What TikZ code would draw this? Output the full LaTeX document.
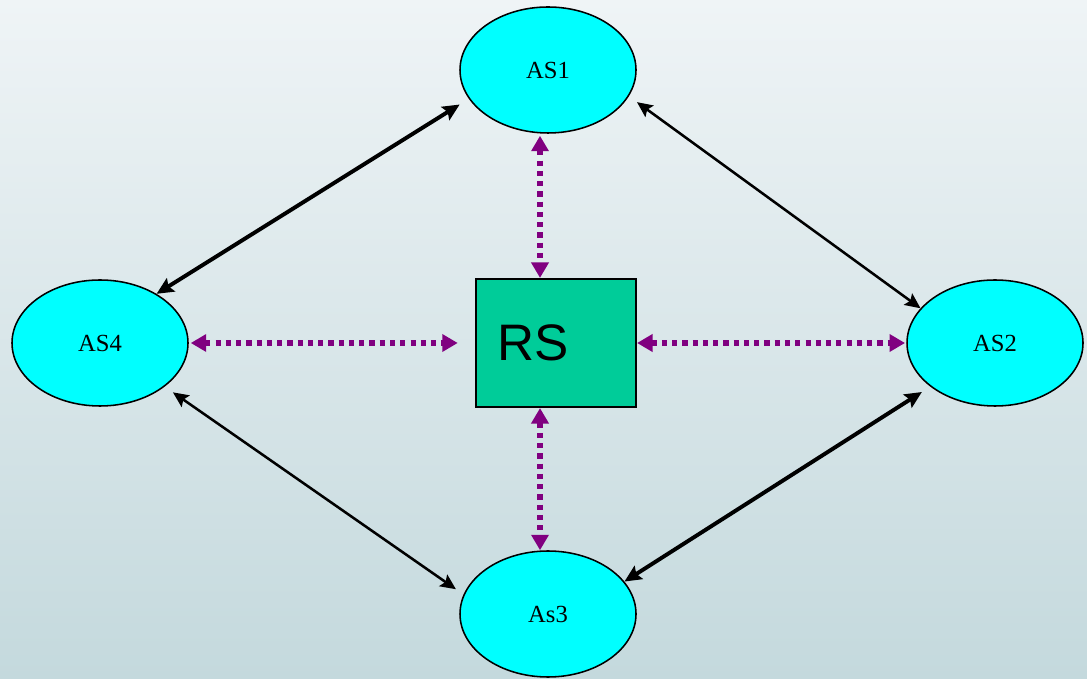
\documentclass[tikz,border=0pt]{standalone}
\usepackage{fontspec}
\setmainfont{Liberation Serif}
\setsansfont{Liberation Sans}
\usetikzlibrary{arrows.meta,shapes.geometric,calc}
\definecolor{bgtop}{HTML}{EFF4F6}
\definecolor{bgbot}{HTML}{C4D9DD}
\definecolor{ascyan}{HTML}{00FFFF}
\definecolor{rsgreen}{HTML}{00CC99}
\definecolor{linkpurple}{HTML}{800080}
\begin{document}
\begin{tikzpicture}[
  asnode/.style={ellipse, draw=black, line width=1.1pt, fill=ascyan, minimum width=4.4cm, minimum height=3.15cm, inner sep=0pt, font=\fontsize{17.5}{20}\selectfont},
  rsnode/.style={rectangle, draw=black, line width=1.5pt, fill=rsgreen, minimum height=3.2cm, text width=2.95cm, align=left, inner xsep=0.525cm, font=\sffamily\fontsize{36.5}{40}\selectfont},
  thinlink/.style={draw=black, line width=1.8pt, {Stealth[length=11pt,width=10pt,inset=2pt]}-{Stealth[length=11pt,width=10pt,inset=2pt]}},
  thicklink/.style={draw=black, line width=2.8pt, {Stealth[length=12pt,width=11pt,inset=2pt]}-{Stealth[length=12pt,width=11pt,inset=2pt]}},
  rslink/.style={draw=linkpurple, line width=4pt, dash pattern=on 3.7pt off 3.6pt, {Triangle[length=11pt,width=12pt]}-{Triangle[length=11pt,width=12pt]}}
]
\useasboundingbox (0,0) rectangle (27.175,16.95);
\shade[top color=bgtop, bottom color=bgbot] (0,0) rectangle (27.175,16.95);

\node[asnode] (as1) at (13.7,15.2) {AS1};
\node[asnode] (as2) at (24.875,8.375) {AS2};
\node[asnode] (as3) at (13.7,1.6) {As3};
\node[asnode] (as4) at (2.5,8.375) {AS4};
\node[rsnode] (rs) at (13.9,8.375) {RS};

\coordinate (px) at (13.5,0);

% RS links
\draw[rslink, shorten <=0.05cm] (as1.south -| px) -- (rs.north -| px);
\draw[rslink] (rs.south -| px) -- (as3.north -| px);
\draw[rslink, shorten <=0.05cm, shorten >=0.43cm] (as4.east) -- (rs.west);
\draw[rslink, shorten >=0.03cm] (rs.east) -- (as2.west);

% AS links
\draw[thicklink, shorten >=0.27cm] (as4.41) -- (as1.200);
\draw[thinlink, shorten <=0.25cm] (as1.-18) -- (as2.155);
\draw[thinlink, shorten <=0.25cm, shorten >=0.23cm] (as4.-34) -- (as3.167);
\draw[thicklink, shorten <=0.25cm] (as2.214) -- (as3.23);
\end{tikzpicture}
\end{document}
